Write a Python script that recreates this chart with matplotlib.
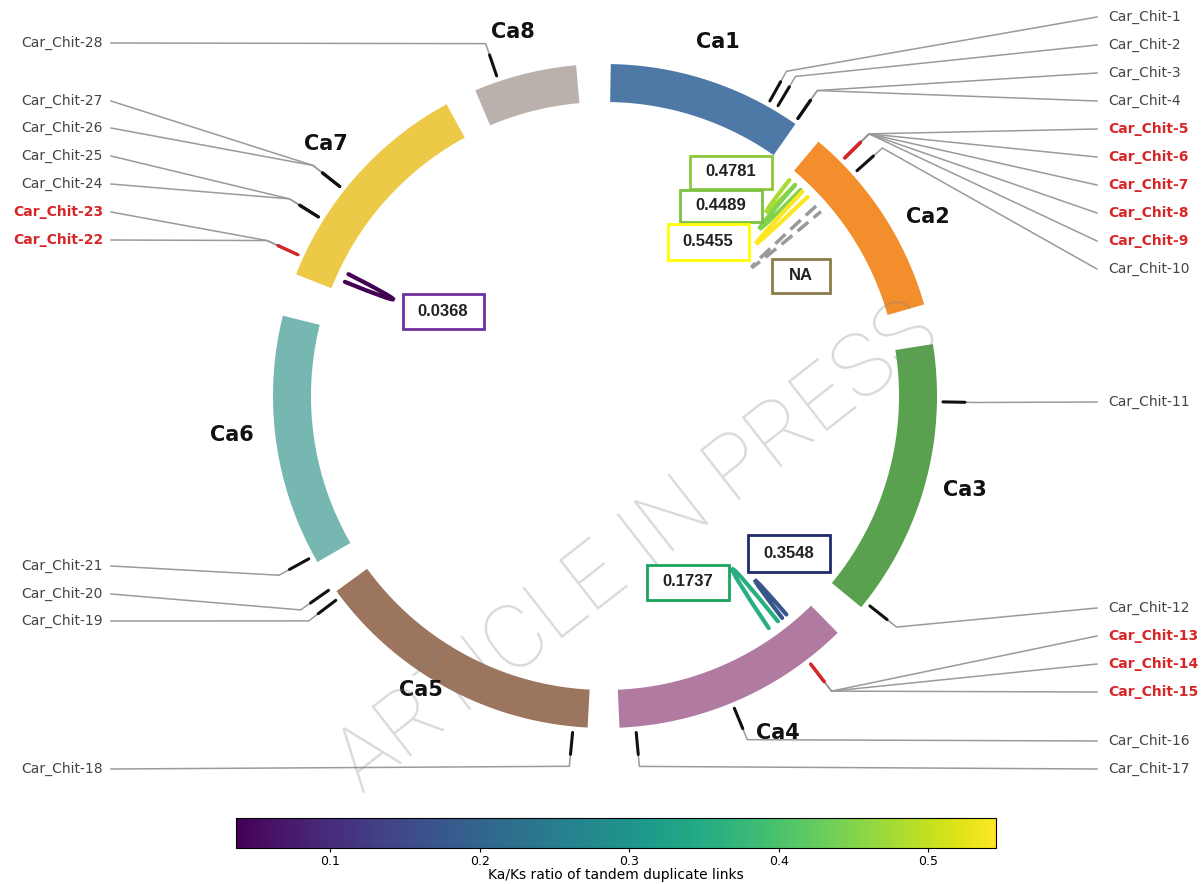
import numpy as np
import matplotlib
matplotlib.use('Agg')
import matplotlib.pyplot as plt
from matplotlib.patches import Polygon, PathPatch, Rectangle
from matplotlib.path import Path
from matplotlib import cm, colors

# chromosomes on the ring (degrees, clockwise from 12 o'clock)
chroms = ['Ca1', 'Ca2', 'Ca3', 'Ca4', 'Ca5', 'Ca6', 'Ca7', 'Ca8']
chrom_start = [1.0, 40.0, 81.0, 135.5, 183.0, 240.0, 291.5, 337.0]
chrom_end = [35.0, 74.0, 129.5, 177.5, 234.0, 284.0, 331.5, 355.0]
chrom_colors = ['#4e79a7', '#f28e2b', '#59a14f', '#b07aa1',
                '#9c755f', '#76b7b2', '#edc948', '#bab0ac']

# chitinase genes and their position on the ring
genes = ['Car_Chit-%d' % i for i in range(1, 29)]
gene_angle = [29.2, 30.8, 34.8, 34.8, 45.2, 45.2, 45.2, 45.2, 45.2, 48.2,
              91.0, 128.4, 142.5, 142.5, 142.5, 157.5, 174.7,
              185.5, 232.8, 234.9, 241.2, 294.7, 294.7, 302.0, 302.0,
              308.3, 308.3, 341.3]
tandem_genes = [5, 6, 7, 8, 9, 13, 14, 15, 22, 23]

# tandem duplicate links: two ends on the ring and Ka/Ks ratio
link_a = [40.5, 42.0, 44.0, 48.0, 293.7, 142.5, 140.3]
link_b = [42.0, 43.5, 45.5, 49.5, 295.4, 144.8, 141.4]
link_kaks = [0.4781, 0.4489, 0.5455, np.nan, 0.0368, 0.3548, 0.1737]

# layout (pixels)
W, H = 1202, 884
cx, cy = 605, 396
r_in, r_out = 294, 332
label_y = [17, 45, 73, 101, 129, 157, 185, 213, 241, 269, 402, 608, 636, 664,
           692, 741, 769, 769, 621, 594, 566, 240, 212, 184, 156, 128, 101, 43]
chrom_label_pos = [(17.7, 372), (61, 369), (104.6, 372), (152.8, 379),
                   (212, 347), (264, 375), (312, 376), (345.8, 375)]
link_tip = [245, 228, 215, 195, 233, 215, 238]
box_xy = [(731, 172), (721, 206), (708, 242), (801, 276),
          (443, 311), (688, 582), (789, 553)]
box_wh = [(82, 33), (82, 32), (81, 36), (58, 34), (81, 35), (82, 35), (82, 37)]
box_edge = ['#8dc63f', '#7cc242', '#ffff00', '#8b7d4b', '#7030a0', '#1aa35a', '#1f2a6b']
box_order = [0, 1, 2, 3, 4, 6, 5]  # which link each box annotates


def polar(r, t):
    t = np.radians(t)
    return cx + r * np.sin(t), cy - r * np.cos(t)


fig = plt.figure(figsize=(W / 100, H / 100), dpi=100)
ax = fig.add_axes([0, 0, 1, 1])
ax.set_xlim(0, W)
ax.set_ylim(H, 0)
ax.axis('off')

# chromosome bands
for name, s, e, c, (lt, lr) in zip(chroms, chrom_start, chrom_end, chrom_colors, chrom_label_pos):
    t = np.linspace(s, e, 120)
    ox, oy = polar(r_out, t)
    ix, iy = polar(r_in, t[::-1])
    pts = np.column_stack([np.r_[ox, ix], np.r_[oy, iy]])
    ax.add_patch(Polygon(pts, closed=True, fc=c, ec='none', zorder=2))
    tx, ty = polar(lr, lt)
    ax.text(tx, ty, name, ha='center', va='center', fontsize=15,
            fontweight='bold', color='#111111', zorder=3)

# gene markers with leader lines to the labels
for i, (g, a, y) in enumerate(zip(genes, gene_angle, label_y)):
    red = (i + 1) in tandem_genes
    right = a < 180
    x_anchor = 1097 if right else 111
    x0, y0 = polar(360, a)
    x1, y1 = polar(372, a)
    ax.plot([x0, x1, x_anchor], [y0, y1, y], color='#9a9a9a', lw=1.1, zorder=3)
    mx, my = polar(np.array([338, 360]), a)
    ax.plot(mx, my, color='#d62728' if red else '#111111', lw=2.2,
            solid_capstyle='round', zorder=4)
    ax.text(x_anchor + (11 if right else -8), y, g,
            ha='left' if right else 'right', va='center', fontsize=10,
            color='#d62728' if red else '#444444',
            fontweight='bold' if red else 'normal', zorder=4)

# tandem links coloured by Ka/Ks
norm = colors.Normalize(vmin=0.0368, vmax=0.5455)
cmap = plt.get_cmap('viridis')
for ta, tb, v, tip in zip(link_a, link_b, link_kaks, link_tip):
    r0 = 284
    p0 = polar(r0, ta)
    p2 = polar(r0, tb)
    rc = 2 * tip - r0 * np.cos(np.radians((tb - ta) / 2))
    c = polar(rc, (ta + tb) / 2)
    path = Path([p0, c, p2], [Path.MOVETO, Path.CURVE3, Path.CURVE3])
    if np.isnan(v):
        ax.add_patch(PathPatch(path, fc='none', ec='#9a9a9a', lw=2.5,
                               ls=(0, (4, 2)), zorder=5))
    else:
        ax.add_patch(PathPatch(path, fc='none', ec=cmap(norm(v)), lw=3,
                               capstyle='round', zorder=5))

# value boxes
for (bx, by), (bw, bh), ec, k in zip(box_xy, box_wh, box_edge, box_order):
    v = link_kaks[k]
    ax.add_patch(Rectangle((bx - bw / 2, by - bh / 2), bw, bh, fc='white',
                           ec=ec, lw=2, zorder=6))
    ax.text(bx, by, 'NA' if np.isnan(v) else '%.4f' % v, ha='center', va='center',
            fontsize=12, fontweight='bold', family='Liberation Sans',
            color='#222222', zorder=7)

ax.text(638, 548, 'ARTICLE IN PRESS', rotation=38, rotation_mode='anchor',
        ha='center', va='center', fontsize=64, family='Roboto', fontweight='light',
        color='gray', alpha=0.3, zorder=10)

# colour bar
cax = fig.add_axes([236 / W, 1 - 848 / H, 760 / W, 30 / H])
cb = fig.colorbar(cm.ScalarMappable(norm=norm, cmap=cmap), cax=cax,
                  orientation='horizontal')
cb.set_ticks([0.1, 0.2, 0.3, 0.4, 0.5])
cb.ax.tick_params(labelsize=9, length=3, pad=2)
cb.set_label('Ka/Ks ratio of tandem duplicate links', fontsize=10, labelpad=0)

fig.savefig('out.png', dpi=100)
